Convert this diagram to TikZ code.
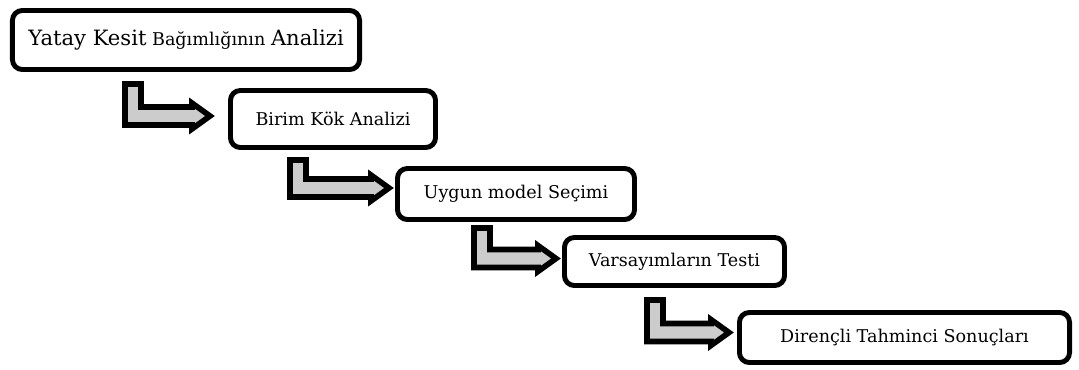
\documentclass[tikz,border=0pt]{standalone}
\usepackage{fontspec}
\setmainfont{DejaVu Serif}
\usepackage{tikz}
\usetikzlibrary{calc}
\tikzstyle{blockarrow} = [line width=4pt, draw=black, fill=gray!40, miter limit=20]
\newcommand{\bendarrow}[2]{%
\path[blockarrow] let \p1=(#1), \p2=(#2) in
  (\x1-5.7pt,\y1) -- (\x1+5.7pt,\y1) -- (\x1+5.7pt,\y2+6.4pt) -- (\x2-12.8pt,\y2+6.4pt)
  -- (\x2-12.8pt,\y2+9.2pt) -- (\x2,\y2) -- (\x2-12.8pt,\y2-9.2pt) -- (\x2-12.8pt,\y2-6.4pt)
  -- (\x1-5.7pt,\y2-6.4pt) -- cycle;}

\begin{document}
\begin{tikzpicture}[x=0.025cm, y=-0.025cm,
stepnode/.style={rectangle, draw=black, fill=white, line width=3.5pt, rounded corners=7pt, inner sep=0pt, font=\fontsize{12.5}{14}\selectfont},]
\useasboundingbox (0,0) rectangle (1079,369);
%Nodes
\node[stepnode, minimum width=8.675cm, minimum height=1.475cm] (yatay) at (186,40)
  {{\fontsize{15}{17}\selectfont Yatay Kesit} {\fontsize{12.5}{14}\selectfont Bağımlığının} {\fontsize{15}{17}\selectfont Analizi}};
\node[stepnode, minimum width=5.125cm, minimum height=1.425cm] (birim) at (333,119) {Birim Kök Analizi};
\node[stepnode, minimum width=5.925cm, minimum height=1.275cm] (model) at (516,194) {Uygun model Seçimi};
\node[stepnode, minimum width=5.5cm, minimum height=1.2cm] (varsayim) at (674.5,261.5) {Varsayımların Testi};
\node[stepnode, minimum width=8.25cm, minimum height=1.25cm] (direncli) at (904.5,337.5) {Dirençli Tahminci Sonuçları};

%Arrows
\bendarrow{$(yatay.south west)+(123,12)$}{$(birim.west)+(-18,-3)$}
\bendarrow{$(birim.south west)+(70,10)$}{$(model.west)+(-6,-6)$}
\bendarrow{$(model.south west)+(87,6)$}{$(varsayim.west)+(-6,-3)$}
\bendarrow{$(varsayim.south west)+(93,12)$}{$(direncli.west)+(-8,-5)$}
\end{tikzpicture}
\end{document}
